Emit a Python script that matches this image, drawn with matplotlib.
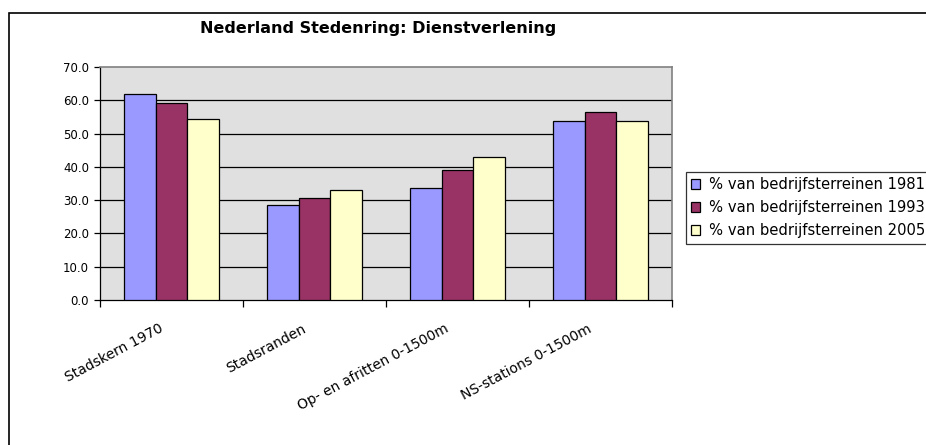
import numpy as np
import matplotlib
matplotlib.use('Agg')
import matplotlib.pyplot as plt
from matplotlib.patches import Rectangle

# Data
categories = ['Stadskern 1970', 'Stadsranden', 'Op- en afritten 0-1500m', 'NS-stations 0-1500m']
series_labels = ['% van bedrijfsterreinen 1981',
                 '% van bedrijfsterreinen 1993',
                 '% van bedrijfsterreinen 2005']
values_1981 = [61.9, 28.5, 33.5, 53.9]
values_1993 = [59.2, 30.7, 39.1, 56.5]
values_2005 = [54.5, 32.9, 42.9, 53.7]
y_ticks = [0, 10, 20, 30, 40, 50, 60, 70]

colors = ['#9999FF', '#993366', '#FFFFCC']

plt.rcParams['font.family'] = ['DejaVu Sans']

fig = plt.figure(figsize=(9.26, 4.45), dpi=100)
ax = fig.add_axes([100/926, 1 - 300/445, 572/926, 233/445])

# outer chart border (runs off the right/bottom edge)
fig.patches.append(Rectangle((9/926, -0.1), 1.2, 1 - 13/445 + 0.1,
                             transform=fig.transFigure, fill=False,
                             edgecolor='black', linewidth=1.2))

x = np.arange(len(categories))
width = 1 / 4.5
series = [values_1981, values_1993, values_2005]
for i, vals in enumerate(series):
    ax.bar(x + (i - 1) * width, vals, width, color=colors[i], edgecolor='black',
           linewidth=0.9, label=series_labels[i], zorder=3)

ax.set_facecolor('#E0E0E0')
ax.set_xlim(-0.5, len(categories) - 0.5)
ax.set_ylim(0, 70)
ax.set_yticks(y_ticks)
ax.set_yticklabels([f'{v:.1f}' for v in y_ticks], fontsize=8.5)
for v in y_ticks[1:-1]:
    ax.axhline(v, color='black', linewidth=0.9, zorder=1)

# category ticks between groups, labels at group centres
ax.set_xticks(np.arange(len(categories) + 1) - 0.5)
ax.set_xticklabels([''] * (len(categories) + 1))
ax.tick_params(axis='x', length=5, width=0.9, direction='out')
ax.tick_params(axis='y', length=4, width=0.9, direction='out', pad=4)
for xi, lab in zip(x, categories):
    ax.text(xi - 0.09, -6.5, lab, rotation=28, ha='right', va='top',
            rotation_mode='anchor', fontsize=10)

for side in ['top', 'right']:
    ax.spines[side].set_color('#808080')
    ax.spines[side].set_linewidth(1.2)
for side in ['left', 'bottom']:
    ax.spines[side].set_color('black')
    ax.spines[side].set_linewidth(0.9)

fig.text(378/926, 1 - 29/445, 'Nederland Stedenring: Dienstverlening',
         ha='center', va='center', fontsize=11.5, fontweight='bold')

leg = ax.legend(loc='upper left', bbox_to_anchor=(686/926, 1 - 172/445),
                bbox_transform=fig.transFigure, fontsize=10.6, frameon=True,
                fancybox=False, edgecolor='black', handlelength=0.6,
                handleheight=0.6, handletextpad=0.6, labelspacing=0.55,
                borderpad=0.35, borderaxespad=0)
leg.get_frame().set_linewidth(0.9)

fig.savefig('out.png', dpi=100)
